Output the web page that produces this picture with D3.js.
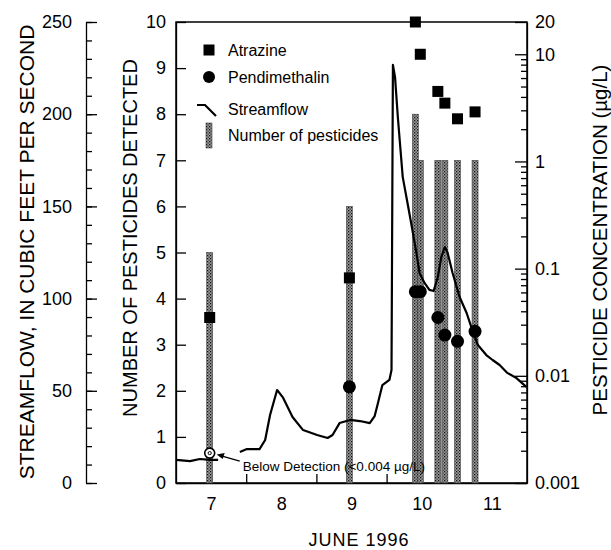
<!DOCTYPE html>
<html>
<head>
<meta charset="utf-8">
<script src="https://cdn.jsdelivr.net/npm/d3@7"></script>
<style>
body { margin: 0; background: #fff; }
svg text { font-family: "Liberation Sans", Arial, Helvetica, sans-serif; fill: #000; }
.axis path, .axis line { stroke: #000; stroke-width: 1.3; }
.axis text { font-size: 18px; }
</style>
</head>
<body>
<div id="main"></div>
<script>
// samples: day of June 1996 (decimal) and results
var sampleDay = [7.48, 9.47, 10.41, 10.48, 10.73, 10.83, 11.01, 11.26];
var pesticideCount = [5, 6, 8, 7, 7, 7, 7, 7];
var atrazine = [0.035, 0.082, 20, 10, 4.5, 3.5, 2.5, 2.9];
var pendimethalin = [0.0019, 0.0079, 0.061, 0.061, 0.035, 0.024, 0.021, 0.026];
var belowDetection = [true, false, false, false, false, false, false, false];

// streamflow trace, cubic feet per second (null = missing record)
var flowDay = [7.00, 7.20, 7.34, 7.48, 7.60, 7.75, 7.91, 8.01, 8.19, 8.27, 8.34, 8.44, 8.52, 8.66, 8.81,
    9.01, 9.16, 9.23, 9.33, 9.48, 9.62, 9.76, 9.83, 9.87, 9.94, 10.04, 10.07, 10.09, 10.12, 10.16,
    10.19, 10.23, 10.29, 10.36, 10.43, 10.47, 10.54, 10.61, 10.67, 10.73, 10.78, 10.83, 10.87, 10.94,
    11.04, 11.14, 11.22, 11.30, 11.42, 11.51, 11.61, 11.72, 11.85, 11.99];
var flowCfs = [12.5, 11.9, 13.0, 12.5, 12.5, null, 16.8, 18.4, 18.4, 23.3, 36.9, 50.4, 46.6, 35.8, 28.7,
    26.0, 24.4, 26.0, 32.5, 34.2, 33.6, 32.5, 36.3, 42.3, 53.1, 55.9, 61.3, 226.7, 220.2, 198.5,
    184.4, 165.9, 153.5, 138.8, 123.6, 113.9, 108.5, 104.7, 104.1, 111.7, 122.6, 128.0, 124.7, 113.9,
    100.9, 92.2, 83.0, 74.8, 69.4, 66.7, 64.0, 59.7, 56.9, 52.1];

var flowTicks = [0, 50, 100, 150, 200, 250];
var countTicks = d3.range(0, 11);
var concTicks = [0.001, 0.01, 0.1, 1, 10, 20];
var dayLabels = [7, 8, 9, 10, 11];
var dayBreaks = [8, 9, 10, 11];
var legendLabels = ["Atrazine", "Pendimethalin", "Streamflow", "Number of pesticides"];

var W = 611, H = 550;
var plotL = 176, plotR = 527, plotT = 22, plotB = 483, flowAxisX = 86;

var x = d3.scaleLinear().domain([7, 12]).range([plotL, plotR]),
    yCount = d3.scaleLinear().domain([0, 10]).range([plotB, plotT]),
    yFlow = d3.scaleLinear().domain([0, 250]).range([plotB, plotT]),
    yConc = d3.scaleLog().domain([0.001, 20]).range([plotB, plotT]);

var samples = sampleDay.map(function (d, i) {
    return { day: d, count: pesticideCount[i], atr: atrazine[i], pen: pendimethalin[i], bd: belowDetection[i] };
});
var flow = flowDay.map(function (d, i) { return { day: d, cfs: flowCfs[i] }; });

var svg = d3.select("#main").append("svg").attr("width", W).attr("height", H);

// stipple pattern for the pesticide-count bars
var pat = svg.append("defs").append("pattern")
    .attr("id", "stip").attr("patternUnits", "userSpaceOnUse")
    .attr("width", 3).attr("height", 3);
pat.append("rect").attr("width", 3).attr("height", 3).attr("fill", "#9c9c9c");
pat.append("rect").attr("width", 1.3).attr("height", 1.3).attr("fill", "#111");
pat.append("rect").attr("x", 1.5).attr("y", 1.5).attr("width", 1.3).attr("height", 1.3).attr("fill", "#333");

// streamflow axis (detached, left)
svg.append("g").attr("class", "axis")
    .attr("transform", "translate(" + flowAxisX + ",0)")
    .call(d3.axisLeft(yFlow).tickValues(yFlow.ticks(25)).tickSize(-6).tickFormat(""))
    .call(function (g) { g.select(".domain").remove(); });
svg.append("g").attr("class", "axis")
    .attr("transform", "translate(" + flowAxisX + ",0)")
    .call(d3.axisLeft(yFlow).tickValues(flowTicks).tickSizeInner(-11).tickSizeOuter(0).tickPadding(14));

// count axis (plot left)
svg.append("g").attr("class", "axis")
    .attr("transform", "translate(" + plotL + ",0)")
    .call(d3.axisLeft(yCount).tickValues(countTicks).tickSizeInner(-10).tickSizeOuter(0).tickPadding(10));

// concentration axis (log, right)
var minorConc = yConc.ticks().filter(function (v) {
    var l = Math.log10(v);
    return Math.abs(l - Math.round(l)) > 1e-6 && v < 20;
});
svg.append("g").attr("class", "axis")
    .attr("transform", "translate(" + plotR + ",0)")
    .call(d3.axisRight(yConc).tickValues(minorConc).tickSize(-6).tickFormat(""))
    .call(function (g) { g.select(".domain").remove(); });
svg.append("g").attr("class", "axis")
    .attr("transform", "translate(" + plotR + ",0)")
    .call(d3.axisRight(yConc).tickValues(concTicks).tickSizeInner(-12).tickSizeOuter(0).tickPadding(8)
        .tickFormat(function (d) { return String(d); }));

// time axis: day breaks as ticks, day numbers centred on each day
svg.append("g").attr("class", "axis")
    .attr("transform", "translate(0," + plotB + ")")
    .call(d3.axisBottom(x).tickValues(dayBreaks).tickSizeInner(-9).tickSizeOuter(0).tickFormat(""));
svg.append("g").attr("class", "axis")
    .attr("transform", "translate(0," + plotB + ")")
    .call(d3.axisBottom(x).tickValues(dayLabels.map(function (d) { return d + 0.5; }))
        .tickSize(0).tickPadding(14).tickFormat(function (d) { return Math.floor(d); }))
    .call(function (g) { g.select(".domain").remove(); });

// plot frame
svg.append("rect")
    .attr("x", plotL).attr("y", plotT)
    .attr("width", plotR - plotL).attr("height", plotB - plotT)
    .attr("fill", "none").attr("stroke", "#000").attr("stroke-width", 1.5);

// bars: number of pesticides detected
svg.selectAll(".bar")
    .data(samples)
    .enter()
    .append("rect")
    .attr("class", "bar")
    .attr("x", function (d) { return x(d.day) - 3; })
    .attr("width", 6)
    .attr("y", function (d) { return yCount(d.count); })
    .attr("height", function (d) { return plotB - yCount(d.count); })
    .attr("fill", "url(#stip)")
    .attr("stroke", "#444")
    .attr("stroke-width", 0.6);

// streamflow line
svg.append("path")
    .datum(flow)
    .attr("fill", "none")
    .attr("stroke", "#000")
    .attr("stroke-width", 2.2)
    .attr("stroke-linejoin", "round")
    .attr("d", d3.line()
        .defined(function (d) { return d.cfs != null; })
        .x(function (d) { return x(d.day); })
        .y(function (d) { return yFlow(d.cfs); }));

// atrazine squares
svg.selectAll(".atr")
    .data(samples)
    .enter()
    .append("rect")
    .attr("class", "atr")
    .attr("x", function (d) { return x(d.day) - 5.5; })
    .attr("y", function (d) { return yConc(d.atr) - 5.5; })
    .attr("width", 11).attr("height", 11)
    .attr("fill", "#000");

// pendimethalin circles
svg.selectAll(".pen")
    .data(samples)
    .enter()
    .append("circle")
    .attr("class", "pen")
    .attr("cx", function (d) { return x(d.day); })
    .attr("cy", function (d) { return yConc(d.pen); })
    .attr("r", function (d) { return d.bd ? 5 : 6.5; })
    .attr("fill", function (d) { return d.bd ? "#fff" : "#000"; })
    .attr("stroke", "#000")
    .attr("stroke-width", function (d) { return d.bd ? 1.6 : 0; });

// below detection note
var bd = samples.filter(function (d) { return d.bd; })[0];
var bx = x(bd.day), by = yConc(bd.pen);
svg.append("circle").attr("cx", bx).attr("cy", by).attr("r", 1.6)
    .attr("fill", "none").attr("stroke", "#000").attr("stroke-width", 1);
svg.append("line")
    .attr("x1", bx + 30).attr("y1", by + 8)
    .attr("x2", bx + 9).attr("y2", by + 2)
    .attr("stroke", "#000").attr("stroke-width", 1.4);
svg.append("path")
    .attr("d", "M" + (bx + 7) + "," + (by + 1.5) + "l8,-1.5l-2,6z")
    .attr("fill", "#000");
svg.append("text")
    .attr("x", bx + 33).attr("y", by + 18)
    .style("font-size", "13.5px")
    .text("Below Detection (<0.004 \u00b5g/L)");

// legend
var lg = svg.append("g").attr("transform", "translate(209,0)");
var rowY = [50, 77, 109, 135];
lg.append("rect").attr("x", -5.5).attr("y", rowY[0] - 5.5).attr("width", 11).attr("height", 11).attr("fill", "#000");
lg.append("circle").attr("cx", 0).attr("cy", rowY[1]).attr("r", 6).attr("fill", "#000");
lg.append("path").attr("d", "M-12," + (rowY[2] - 4) + "h8l11,11")
    .attr("fill", "none").attr("stroke", "#000").attr("stroke-width", 2.2);
lg.append("rect").attr("x", -3).attr("y", rowY[3] - 12).attr("width", 6).attr("height", 25)
    .attr("fill", "url(#stip)").attr("stroke", "#444").attr("stroke-width", 0.6);
lg.selectAll(".lgt")
    .data(legendLabels)
    .enter()
    .append("text")
    .attr("class", "lgt")
    .attr("x", 19)
    .attr("y", function (d, i) { return rowY[i] + 6; })
    .style("font-size", "16px")
    .text(function (d) { return d; });

// axis titles
svg.append("text")
    .attr("transform", "translate(34,252) rotate(-90)")
    .attr("text-anchor", "middle")
    .style("font-size", "21px")
    .text("STREAMFLOW, IN CUBIC FEET PER SECOND");
svg.append("text")
    .attr("transform", "translate(137,238) rotate(-90)")
    .attr("text-anchor", "middle")
    .style("font-size", "20px")
    .text("NUMBER OF PESTICIDES DETECTED");
svg.append("text")
    .attr("transform", "translate(607,240) rotate(-90)")
    .attr("text-anchor", "middle")
    .style("font-size", "20.5px")
    .text("PESTICIDE CONCENTRATION (\u00b5g/L)");
svg.append("text")
    .attr("x", 359).attr("y", 546)
    .attr("text-anchor", "middle")
    .style("font-size", "18px")
    .style("letter-spacing", "1px")
    .text("JUNE 1996");
</script>
</body>
</html>
